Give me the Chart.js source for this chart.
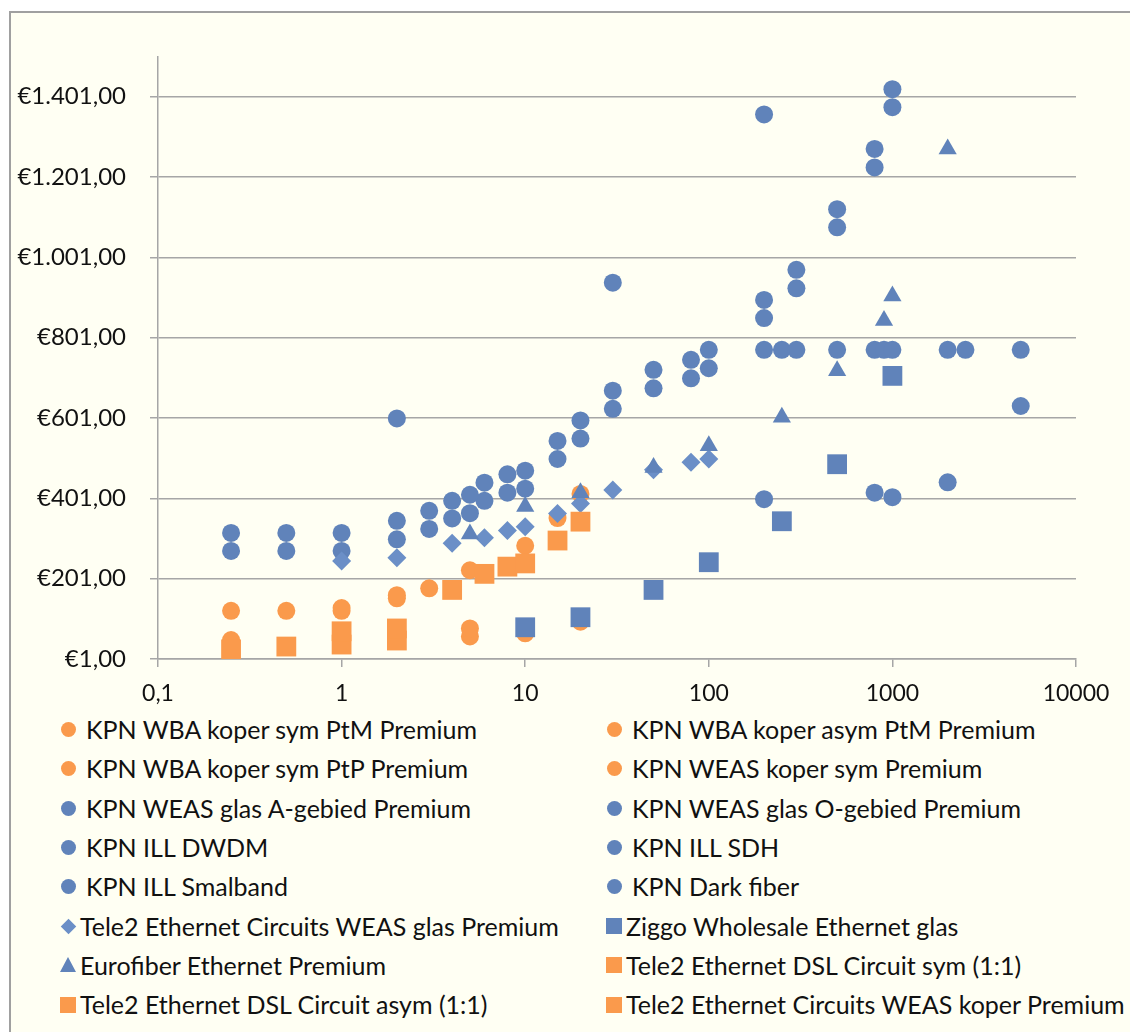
<!DOCTYPE html>
<html>
<head>
<meta charset="utf-8">
<script src="https://cdn.jsdelivr.net/npm/chart.js@4"></script>
<style>
    body { margin: 0; background: #fff; width: 1130px; height: 1032px; overflow: hidden; font-family: Lato, sans-serif; }
    #frame { position: absolute; left: 9px; top: 11px; width: 1200px; height: 1100px; border: 2px solid #a0a0a0; background: #fffff3; box-sizing: border-box; }
    #chart-wrap { position: absolute; left: 0; top: 0; width: 1130px; height: 710px; }
    #legend { position: absolute; left: 0; top: 710px; width: 1130px; height: 320px; }
    .item { position: absolute; height: 39.3px; line-height: 39.3px; font-size: 25px; color: #111; white-space: nowrap; }
    .mark { position: absolute; }
</style>
</head>
<body>
<div id="frame"></div>
<div id="chart-wrap"><canvas id="chart"></canvas></div>
<div id="legend"></div>
<script>
// series names, legend order (row by row, two columns)
const seriesNames = [
    'KPN WBA koper sym PtM Premium',
    'KPN WBA koper asym PtM Premium',
    'KPN WBA koper sym PtP Premium',
    'KPN WEAS koper sym Premium',
    'KPN WEAS glas A-gebied Premium',
    'KPN WEAS glas O-gebied Premium',
    'KPN ILL DWDM',
    'KPN ILL SDH',
    'KPN ILL Smalband',
    'KPN Dark fiber',
    'Tele2 Ethernet Circuits WEAS glas Premium',
    'Ziggo Wholesale Ethernet glas',
    'Eurofiber Ethernet Premium',
    'Tele2 Ethernet DSL Circuit sym (1:1)',
    'Tele2 Ethernet DSL Circuit asym (1:1)',
    'Tele2 Ethernet Circuits WEAS koper Premium'
];

// [bandwidth (Mbit/s), price (EUR)]
const wbaSymPtM = [[0.25, 121], [0.5, 121], [1, 121], [2, 152]];
const wbaAsymPtM = [[0.25, 48], [5, 57], [5, 77], [10, 65], [20, 94]];
const wbaSymPtP = [[1, 128], [2, 160], [3, 177], [5, 222]];
const weasKoper = [[10, 283], [15, 352], [20, 412]];
const weasGlasA = [[0.25, 270], [0.5, 270], [1, 270], [2, 299], [3, 325], [4, 351], [5, 364], [6, 395],
    [8, 415], [10, 425], [15, 499], [20, 550], [30, 624], [50, 675], [80, 700], [100, 725]];
const weasGlasO = [[0.25, 315], [0.5, 315], [1, 315], [2, 345], [3, 370], [4, 395], [5, 410], [6, 440],
    [8, 461], [10, 470], [15, 544], [20, 595], [30, 669], [50, 721], [80, 746], [100, 771]];
const illDwdm = [[200, 895], [200, 850], [300, 970], [300, 924], [500, 1121], [500, 1076],
    [800, 1271], [800, 1225], [1000, 1420], [1000, 1375]];
const illSdh = [[30, 938], [200, 1357]];
const illSmalband = [[2, 600]];
const darkFiber = [[200, 771], [250, 771], [300, 771], [500, 771], [800, 771], [900, 771], [1000, 771],
    [2000, 771], [2500, 771], [5000, 771], [200, 399], [800, 415], [1000, 404], [2000, 441], [5000, 631]];
const tele2WeasGlas = [[1, 245], [2, 253], [4, 289], [6, 303], [8, 321], [10, 330], [15, 363],
    [20, 388], [30, 422], [50, 472], [80, 491], [100, 499]];
const ziggo = [[10, 80], [20, 105], [50, 173], [100, 242], [250, 344], [500, 486], [1000, 706]];
const eurofiber = [[5, 312], [10, 381], [20, 415], [50, 478], [100, 532], [250, 603], [500, 719],
    [900, 844], [1000, 905], [2000, 1271]];
const dslSym = [[0.25, 25], [0.5, 32], [1, 37], [2, 47]];
const dslAsym = [[1, 70], [2, 77]];
const tele2WeasKoper = [[4, 173], [6, 213], [8, 231], [10, 239], [15, 296], [20, 343]];

const allSeries = [wbaSymPtM, wbaAsymPtM, wbaSymPtP, weasKoper, weasGlasA, weasGlasO, illDwdm, illSdh,
    illSmalband, darkFiber, tele2WeasGlas, ziggo, eurofiber, dslSym, dslAsym, tele2WeasKoper];

const xTicks = [0.1, 1, 10, 100, 1000, 10000];
const yTicks = [1, 201, 401, 601, 801, 1001, 1201, 1401];

const ORANGE = '#fa9a4c';
const BLUE = '#6083ba';
const BLUE_LIGHT = '#6b8fc7';

function styleFor(i) {
    if (i < 4) return { shape: 'circle', color: ORANGE, r: 9 };
    if (i < 10) return { shape: 'circle', color: BLUE, r: 9 };
    if (i === 10) return { shape: 'rectRot', color: BLUE_LIGHT, r: 9.5 };
    if (i === 11) return { shape: 'rect', color: BLUE, r: 14 };
    if (i === 12) return { shape: 'triangle', color: BLUE, r: 10.5 };
    return { shape: 'rect', color: ORANGE, r: 14 };
}

function euro(v) {
    const parts = v.toFixed(2).split('.');
    const int = parts[0].replace(/\B(?=(\d{3})+(?!\d))/g, '.');
    return '€' + int + ',' + parts[1];
}

const datasets = allSeries.map((pts, i) => {
    const st = styleFor(i);
    return {
        label: seriesNames[i],
        data: pts.map(p => ({ x: p[0], y: p[1] })),
        pointStyle: st.shape,
        pointRadius: st.r,
        pointHoverRadius: st.r,
        backgroundColor: st.color,
        borderColor: st.color,
        borderWidth: 0,
        showLine: false,
        clip: 0,
        order: allSeries.length - i
    };
});

const gridColor = '#a6a6a6';

new Chart(document.getElementById('chart'), {
    type: 'scatter',
    data: { datasets: datasets },
    options: {
        responsive: true,
        maintainAspectRatio: false,
        animation: false,
        layout: { padding: { top: 57, right: 54, left: 0, bottom: 0 } },
        plugins: {
            legend: { display: false },
            tooltip: { enabled: false }
        },
        scales: {
            x: {
                type: 'logarithmic',
                min: 0.1,
                max: 10000,
                afterBuildTicks: s => { s.ticks = xTicks.map(v => ({ value: v })); },
                afterFit: s => { s.height = 51; },
                ticks: {
                    autoSkip: false,
                    maxRotation: 0,
                    padding: 13,
                    color: '#111',
                    font: { family: 'Lato', size: 23 },
                    callback: v => String(v).replace('.', ',')
                },
                grid: { drawOnChartArea: false, drawTicks: true, tickLength: 8, color: gridColor, lineWidth: 1.5 },
                border: { color: gridColor, width: 1.5 }
            },
            y: {
                min: 1,
                max: 1500,
                afterBuildTicks: s => { s.ticks = yTicks.map(v => ({ value: v })); },
                afterFit: s => { s.width = 158; },
                ticks: {
                    padding: 24,
                    color: '#111',
                    font: { family: 'Lato', size: 24 },
                    callback: v => euro(v)
                },
                grid: { color: gridColor, lineWidth: 1.5, tickLength: 8 },
                border: { color: gridColor, width: 1.5 }
            }
        }
    }
});

// legend in two columns
const legend = document.getElementById('legend');
seriesNames.forEach((name, i) => {
    const st = styleFor(i);
    const row = Math.floor(i / 2);
    const col = i % 2;
    const cx = col === 0 ? 68 : 614;
    const item = document.createElement('div');
    item.className = 'item';
    item.style.top = (row * 39.3) + 'px';
    item.style.left = '0px';

    const mark = document.createElement('div');
    mark.className = 'mark';
    let w = 15, h = 15;
    if (st.shape === 'circle') {
        mark.style.borderRadius = '50%';
        mark.style.background = st.color;
    } else if (st.shape === 'rect') {
        w = 16; h = 16;
        mark.style.background = st.color;
    } else if (st.shape === 'rectRot') {
        w = 11; h = 11;
        mark.style.background = st.color;
        mark.style.transform = 'rotate(45deg)';
    }
    if (st.shape === 'triangle') {
        mark.style.borderLeft = '8px solid transparent';
        mark.style.borderRight = '8px solid transparent';
        mark.style.borderBottom = '15px solid ' + st.color;
        mark.style.left = (cx - 8) + 'px';
        mark.style.top = (19.65 - 8) + 'px';
    } else {
        mark.style.width = w + 'px';
        mark.style.height = h + 'px';
        mark.style.left = (cx - w / 2) + 'px';
        mark.style.top = (19.65 - h / 2) + 'px';
    }
    item.appendChild(mark);

    const text = document.createElement('span');
    text.style.position = 'absolute';
    text.style.left = (cx + (st.shape === 'circle' ? 18 : 12)) + 'px';
    text.textContent = name;
    item.appendChild(text);

    legend.appendChild(item);
});
</script>
</body>
</html>
